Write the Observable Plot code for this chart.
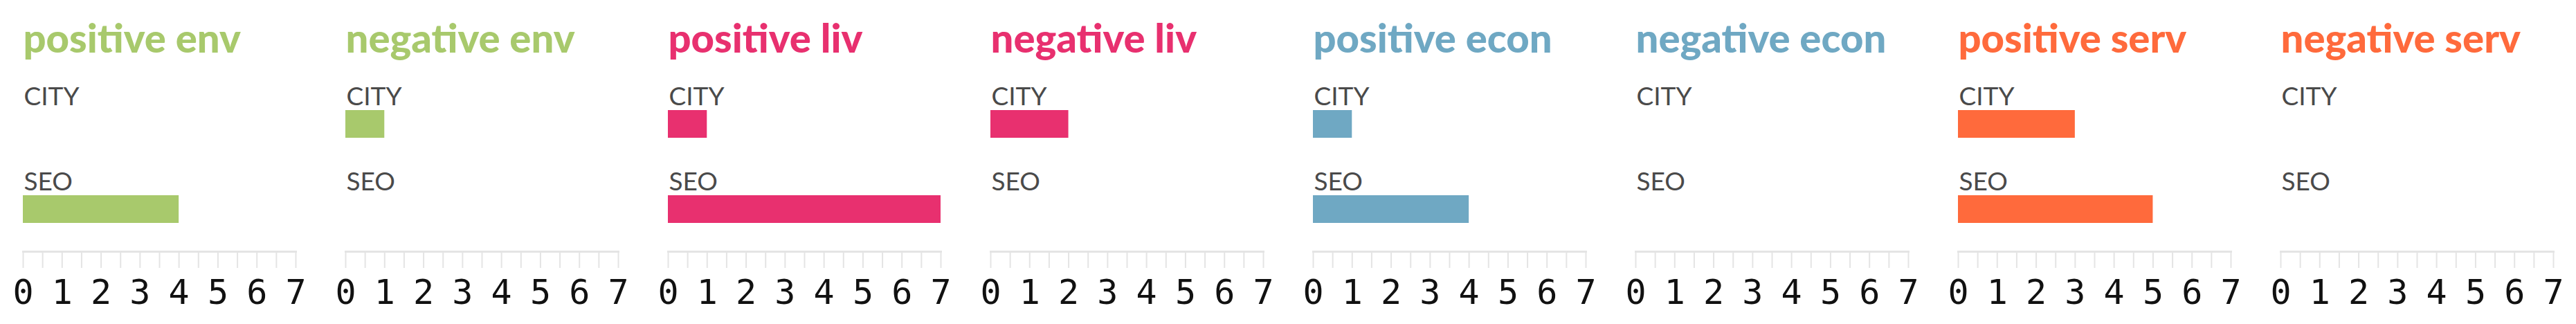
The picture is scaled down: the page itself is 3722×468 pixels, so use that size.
<!DOCTYPE html>
<html>
<head>
<meta charset="utf-8">
<script src="https://cdn.jsdelivr.net/npm/d3@7"></script>
<script src="https://cdn.jsdelivr.net/npm/@observablehq/plot@0.6"></script>
<style>
  html, body { margin: 0; padding: 0; background: #fff; }
  #chart { width: 3722px; height: 468px; }
</style>
</head>
<body>
<div id="chart"></div>
<script>
// Categories (facets), groups (rows) and values
const categories = ["positive env", "negative env", "positive liv", "negative liv",
                    "positive econ", "negative econ", "positive serv", "negative serv"];
const groups = ["CITY", "SEO"];
const cityValues = [0, 1, 1, 2, 1, 0, 3, 0];
const seoValues  = [4, 0, 7, 0, 4, 0, 5, 0];
const majorTicks = [0, 1, 2, 3, 4, 5, 6, 7];
const minorTicks = [0, 0.5, 1, 1.5, 2, 2.5, 3, 3.5, 4, 4.5, 5, 5.5, 6, 6.5, 7];

// Palette (style, kept separate from data)
const palette = ["#a8c96c", "#a8c96c", "#e8306f", "#e8306f",
                 "#6fa8c3", "#6fa8c3", "#ff6a3c", "#ff6a3c"];

const rows = categories.flatMap((c, i) => [
  {category: c, group: groups[0], value: cityValues[i]},
  {category: c, group: groups[1], value: seoValues[i]}
]);

const chart = Plot.plot({
  width: 3722,
  height: 468,
  marginLeft: 32,
  marginRight: 33,
  marginTop: 0,
  marginBottom: 105,
  style: {background: "#fff", overflow: "visible"},
  fx: {domain: categories, axis: null, paddingInner: 0.155, paddingOuter: 0},
  x: {domain: [0, 7], axis: null},
  y: {domain: groups, range: [158, 322], paddingInner: 0.677, paddingOuter: 0, axis: null},
  color: {domain: categories, range: palette},
  marks: [
    Plot.frame({anchor: "bottom", stroke: "#e4e4e4", strokeWidth: 3}),
    Plot.axisX({ticks: minorTicks, tickFormat: () => " ", fontSize: 0, tickSize: 24,
                stroke: "#e4e4e4", strokeWidth: 2, label: null, anchor: "bottom"}),
    Plot.axisX({ticks: majorTicks, tickFormat: d => String(d), tickSize: 0, tickPadding: 40,
                fontSize: 50, fontFamily: "DejaVu Sans Mono", fill: "#111",
                label: null, anchor: "bottom"}),
    Plot.barX(rows, {fx: "category", y: "group", x: "value", fill: "category"}),
    Plot.text(rows, {fx: "category", y: "group", text: "group", frameAnchor: "left",
                     textAnchor: "start", lineAnchor: "bottom", dy: -28, dx: 1,
                     fontSize: 37, fontFamily: "Lato", fill: "#4a4a4a"}),
    Plot.text(categories, {fx: d => d, text: d => d, fill: d => d, frameAnchor: "top-left",
                           textAnchor: "start", lineAnchor: "bottom", dy: 75,
                           fontSize: 58, fontWeight: 900, fontFamily: "Lato"})
  ]
});
document.getElementById("chart").appendChild(chart);
</script>
</body>
</html>
